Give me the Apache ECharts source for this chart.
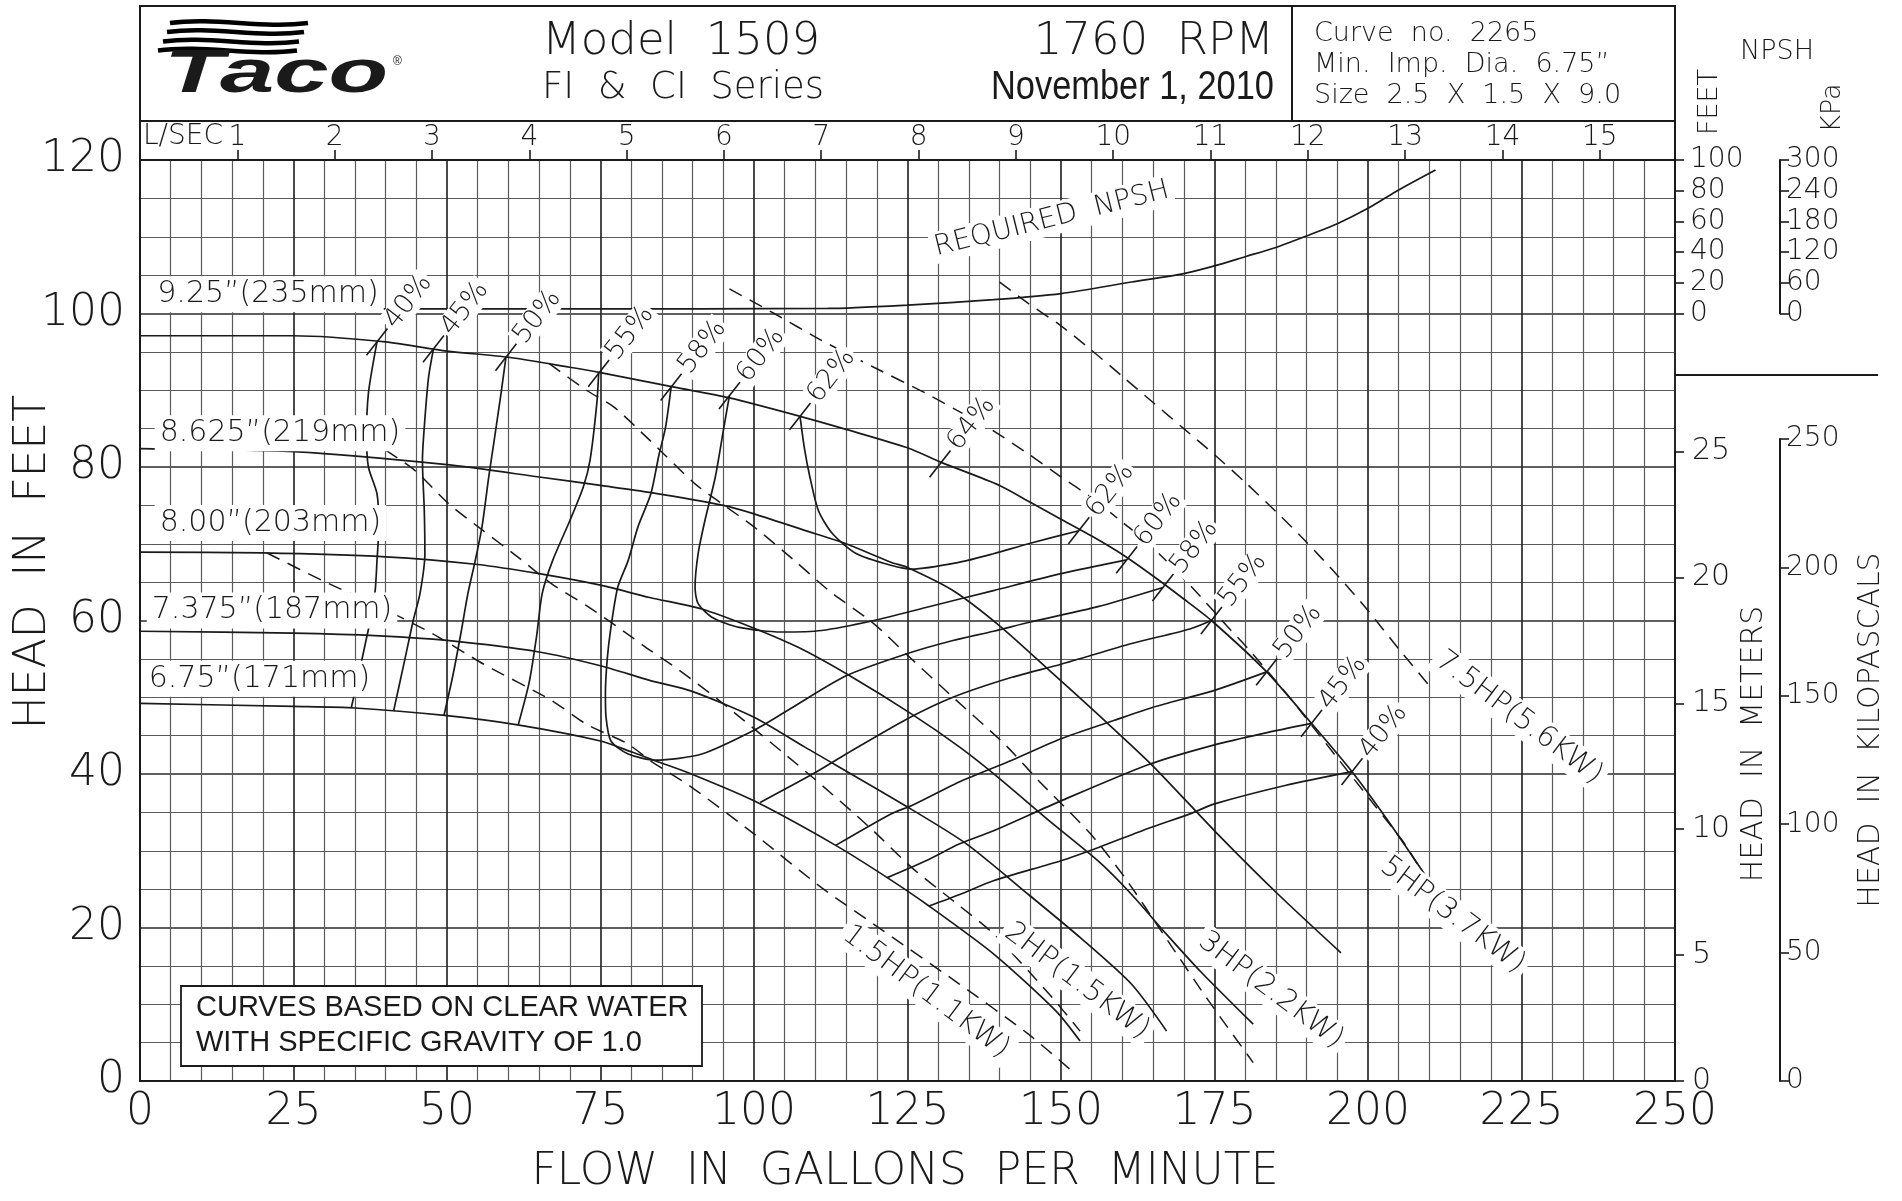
<!DOCTYPE html>
<html>
<head>
<meta charset="utf-8">
<title>Taco Model 1509 pump curve</title>
<script src="https://cdn.jsdelivr.net/npm/echarts@6/dist/echarts.min.js"></script>
<style>
html,body{margin:0;padding:0;background:#fff;}
#chart{width:1902px;height:1201px;}
</style>
</head>
<body>
<div id="chart"></div>
<script>
'use strict';
// all curves as [gpm, head ft]
var imp925 = [[0,97.1],[25,97.1],[40,96.3],[50,95.1],[60,94.3],[70,93],[75,92.3],[87,90.4],[96,89],[107.5,86.6],[115,84.9],[125,82.5],[130.5,80.6],[140,77.6],[145,75.4],[150,73.2],[155,71],[160,68.6],[165,65.8],[170,62.8],[174.5,60],[183.5,53.3],[190.8,46.6],[197.4,40.3],[203,34.2],[209.6,26.5]];
var imp8625 = [[0,82.4],[25,82],[50,80.3],[65,78.7],[75,77.6],[83,76.7],[95,75],[100,73.9],[110,71.3],[115,70],[122.3,67.6],[125,66.9],[132.4,63.9],[140,59.3],[148.1,53.5],[156.5,47.4],[164.9,41.1],[175,32.6],[185.4,24.3],[195.6,16.7]];
var imp800 = [[0,68.9],[20,68.8],[40,68.3],[55,67.3],[65,66.1],[75,64.6],[83,63],[91.5,61.5],[100,59],[107.2,56.5],[115.6,52.8],[125.7,47.8],[133.5,43.5],[139.7,39.6],[148.1,33.9],[156,28.7],[161.5,24.3],[167.2,19.1],[172.8,14.2],[181.3,7.4]];
var imp7375 = [[0,58.6],[25,58.35],[39,58],[50,57.4],[65,55.9],[75,54.1],[83,52.2],[89.8,50.8],[100,47.4],[108.3,43.5],[125,35.7],[134.6,30.9],[144.7,24.3],[153.1,18.7],[161.5,12.6],[167.2,6.5]];
var imp675 = [[0,49.2],[25,48.8],[35,48.6],[50,47.6],[61.5,46.4],[75,44.3],[80,42.9],[84,41.7],[89.8,40],[100,36.5],[113.3,30.7],[121.7,26.5],[128.5,22.8],[139.1,16.5],[149.2,9.1],[153.1,5.2]];

var eff40L = [[38.6,96.3],[37.2,89.6],[36.9,84],[37.2,80],[38.6,76.5],[38.9,72.2],[38.6,67.8],[38.3,63.9],[37.5,60],[36.7,57],[35.5,52.5],[34.4,48.6]];
var eff40R = [[128.5,22.8],[133.5,24.3],[139,26.1],[150,28.7],[156,30.4],[164.5,33],[171,34.8],[175,36.1],[186.5,38.5],[197.4,40.3]];
var eff45L = [[47.8,95.4],[47,91.7],[46.3,85.2],[46,80.9],[46.3,74.3],[46.4,68.7],[45.6,63.5],[44.5,60],[43.1,54.8],[41.3,48.2]];
var eff45R = [[121.7,26.5],[128,28.7],[133.5,30.9],[139,32.6],[150,36.5],[164.5,41.3],[175,43.8],[183,45.3],[190.8,46.6]];
var eff50L = [[59.6,94.3],[58.8,89.6],[57.6,83],[56.8,78.7],[55.7,72.2],[54.6,67.8],[53.4,63.5],[52.3,58.5],[51,53],[49.5,47.6]];
var eff50R = [[113.3,30.7],[122.3,34.8],[125.7,35.9],[133.5,39],[142,41.8],[150,44.6],[158.7,47],[165,48.7],[175,50.9],[183.5,53.3]];
var eff55L = [[74.7,92.2],[74.4,88.3],[73.3,80.9],[72.2,77.4],[70,73],[67.2,67.8],[65.5,63.5],[64.6,58],[63.4,52],[61.6,46.4]];
var eff55R = [[101,36.3],[110,40.2],[115,42.6],[125,47.2],[132.4,50],[142,52.6],[150,54.3],[161.5,57],[171,58.9],[174.5,60]];
var eff58 = [[86.5,90.4],[85.6,85.2],[84.5,81.5],[83.2,76.5],[81.1,72.2],[79.5,67.8],[77.8,64.3],[76.7,59.1],[76.1,55],[75.8,50.5],[75.9,47.4],[76.7,44.3],[79.5,42.6],[84,41.8],[91.5,42.6],[100,45.7],[105.5,48.3],[115,52.8],[125,55.7],[132.4,57.4],[139,58.6],[145,59.8],[156,61.8],[166.6,64.3]];
var eff60 = [[96,89.3],[95.1,85.2],[93.7,78.7],[92,73],[90.9,68.7],[90.4,64.3],[90.9,62.2],[93.2,60.4],[97.6,59.1],[104.4,58.5],[111,58.7],[119.5,60],[128,61.7],[139,63.9],[150,66.1],[160.7,67.9]];
var eff62 = [[107.5,86.6],[108.2,82.5],[109.1,78.7],[110.5,74.3],[112.8,71.3],[116.7,68.7],[122.3,67.2],[125.7,66.7],[133.5,67.6],[139,68.7],[144.7,70],[152.9,71.7]];

var hp15 = [[20.7,68.8],[29.7,65.2],[39.2,61.7],[47.6,58.3],[56,54.3],[67,49.6],[72.7,46.5],[79.5,43.9],[83,41.8],[89.8,38.3],[100,32.2],[111,25.2],[121,19.6],[133.5,12.6],[144.7,6.1],[151.5,1.5]];
var hp2 = [[40,82.2],[44.7,79.6],[50.3,75.2],[55.9,71.7],[61.5,68.3],[67,64.8],[72.6,62],[79.3,58.3],[83.1,56.1],[87.7,53.6],[94.3,49.6],[108.9,40],[118.9,33],[125.7,27.8],[132.4,23.5],[139.1,19.1],[148.1,11.3],[153.1,6.5]];
var hp3 = [[66.6,93.5],[72.7,90],[77.2,87.8],[83,83.5],[85.3,81.7],[90.4,77.8],[94.8,75.2],[100,72.2],[106.6,67.8],[112.2,63.9],[119.5,59.6],[125.1,55.4],[132.4,50],[140.8,43.9],[146.4,39.1],[154.8,32.2],[160.4,26.5],[167.2,18.5],[174,10.5],[181.3,2.4]];
var hp5 = [[96,103.2],[103.3,100],[111,96.5],[119.5,93],[128,89.6],[133,87.4],[138,85.2],[144.7,81.7],[150,78.7],[155,76],[160,72.8],[164.3,70],[171,64.6],[177.7,58.7],[180.5,56.3],[186.8,50.4],[194.8,42.3],[201.1,35.9],[205.8,31.1],[208,28.3]];
var hp75 = [[140,104.1],[144.7,101.3],[150,98.4],[155,95.2],[160,91.8],[165,88.4],[170,85],[175,81.6],[180,78],[185,74.2],[190,70.2],[195,65.9],[200,61.3],[205,56.3],[210,51.5]];

// required NPSH, [gpm, NPSH ft] on the NPSH scale
var npshReq = [[25,3],[70,3],[112,3.3],[125,5.5],[139,9],[150,13],[161.5,20.5],[170,26],[175,31],[180,37],[185,43],[190,50.5],[195,58.5],[200,68.5],[205,80.5],[211,93.5]];

var impLabels = [[2.0,102.5,'9.25\u201d(235mm)'],[2.4,84.4,'8.625\u201d(219mm)'],[2.4,72.7,'8.00\u201d(203mm)'],[1.1,61.3,'7.375\u201d(187mm)'],[0.6,52.4,'6.75\u201d(171mm)']];
var effLabels = [[38.6,96.3,'40%'],[47.8,95.4,'45%'],[59.6,94.3,'50%'],[74.7,92.2,'55%'],[86.5,90.4,'58%'],[96,89.3,'60%'],[107.5,86.6,'62%'],[130.3,80.4,'64%'],
  [152.9,71.7,'62%'],[160.7,67.9,'60%'],[166.6,64.3,'58%'],[174.5,60,'55%'],[183.5,53.3,'50%'],[190.8,46.6,'45%'],[197.4,40.3,'40%']];
var hpLabels = [[128,11.6,'1.5HP(1.1KW)'],[152.6,13,'2HP(1.5KW)'],[184.2,11.8,'3HP(2.2KW)'],[213.8,21.6,'5HP(3.7KW)'],[224.6,47.3,'7.5HP(5.6KW)']];
var npshLabel = [[148.5,112.3,'REQUIRED  NPSH']];

var lsecTicks = [1,2,3,4,5,6,7,8,9,10,11,12,13,14,15];

var INK = '#1a1a1a';
var CAD = '"DejaVu Sans"';
var GL = 140, GT = 160, GW = 1535, GH = 921;
var GB = GT + GH, GR = GL + GW;
var KPA_PER_FT = 2.98898;
var GPM_PER_LS = 15.850323;
var FT_PER_M = 3.28084;
var EFF_ANGLE = 52, HP_ANGLE = -37, NPSH_ANGLE = 14;

var pxPerFt = GH / 120;
var kpaTop = GB - 250 / KPA_PER_FT * pxPerFt;
var meterTop = GB - 25 * FT_PER_M * pxPerFt;
var npshBottom = GB - 100 * pxPerFt;

function curve(data, dashed, yIdx) {
  return {
    type: 'line', data: data, xAxisIndex: 0, yAxisIndex: yIdx || 0,
    showSymbol: false, symbol: 'none', smooth: 0.25, silent: true, animation: false,
    lineStyle: {color: INK, width: dashed ? 1.5 : 1.7, type: dashed ? [14, 9] : 'solid'},
    z: 3
  };
}

function cadFont(size) {
  return '200 ' + size + 'px ' + CAD;
}

function labelSeries(list, render) {
  return {
    type: 'custom', xAxisIndex: 0, yAxisIndex: 0, silent: true, animation: false, z: 6,
    data: list.map(function (d) { return [d[0], d[1]]; }),
    renderItem: render
  };
}

function renderImp(params, api) {
  var d = impLabels[params.dataIndex];
  var p = api.coord([d[0], d[1]]);
  return {type: 'text', x: p[0], y: p[1], style: {text: d[2], fill: INK, font: cadFont(30), align: 'left', verticalAlign: 'middle', backgroundColor: '#fff', padding: [3, 5]}};
}

function renderEff(params, api) {
  var d = effLabels[params.dataIndex];
  var p = api.coord([d[0], d[1]]);
  var a = EFF_ANGLE * Math.PI / 180;
  var ux = Math.cos(a), uy = -Math.sin(a);
  return {
    type: 'group',
    children: [{
      type: 'line',
      shape: {x1: p[0] - ux * 17, y1: p[1] - uy * 17, x2: p[0] + ux * 17, y2: p[1] + uy * 17},
      style: {stroke: INK, lineWidth: 1.6}
    }, {
      type: 'text', x: p[0] + ux * 19, y: p[1] + uy * 19, rotation: a,
      style: {text: d[2], fill: INK, font: cadFont(27), align: 'left', verticalAlign: 'middle', backgroundColor: '#fff', padding: [0, 2]}
    }]
  };
}

function renderRotated(list, angle, size) {
  return function (params, api) {
    var d = list[params.dataIndex];
    var p = api.coord([d[0], d[1]]);
    return {type: 'text', x: p[0], y: p[1], rotation: angle * Math.PI / 180,
      style: {text: d[2], fill: INK, font: cadFont(size), align: 'center', verticalAlign: 'middle', backgroundColor: '#fff', padding: [2, 4]}};
  };
}

function txt(s, x, y, size, opts) {
  var o = opts || {};
  return {
    type: 'text', x: x, y: y, rotation: o.rot || 0, scaleX: o.sx || 1, z: 20,
    style: {text: s, fill: INK, font: o.font || cadFont(size), align: o.align || 'left', verticalAlign: 'middle'}
  };
}

function seg(x1, y1, x2, y2, w) {
  return {type: 'line', z: 20, shape: {x1: x1, y1: y1, x2: x2, y2: y2}, style: {stroke: INK, lineWidth: w || 2}};
}

function wave(x1, x2, y) {
  var len = x2 - x1;
  return {type: 'bezierCurve', z: 20, shape: {x1: x1, y1: y, x2: x2, y2: y, cpx1: x1 + len / 3, cpy1: y - 6, cpx2: x1 + 2 * len / 3, cpy2: y + 6},
    style: {stroke: '#000', lineWidth: 4.6, fill: null}};
}

var axisText = {color: INK, fontFamily: CAD, fontWeight: 200};

// short scales drawn on their own narrow grids, ticks and labels pointing right
function sideAxis(gridIndex, max, interval, size, margin) {
  return {gridIndex: gridIndex, type: 'value', min: 0, max: max, interval: interval, position: 'left',
    axisLine: {show: true, onZero: false, lineStyle: {color: INK, width: 2}},
    axisTick: {show: true, inside: true, length: 9, lineStyle: {color: INK, width: 1.6}},
    axisLabel: Object.assign({fontSize: size, inside: true, margin: margin}, axisText),
    splitLine: {show: false}};
}

function hiddenX(gridIndex) {
  return {gridIndex: gridIndex, type: 'value', min: 0, max: 1, show: false, axisLine: {onZero: false}};
}

var option = {
  backgroundColor: '#fff',
  animation: false,
  grid: [
    {left: GL, top: GT, width: GW, height: GH, show: true, borderColor: INK, borderWidth: 2},
    {left: GR + 105, top: kpaTop, width: 1, height: GB - kpaTop},
    {left: GR + 105, top: GT, width: 1, height: npshBottom - GT},
    {left: GR, top: meterTop, width: 1, height: GB - meterTop},
    {left: GR, top: GT, width: 1, height: npshBottom - GT}
  ],
  xAxis: [
    {gridIndex: 0, type: 'value', min: 0, max: 250, interval: 25, position: 'bottom',
      axisLine: {onZero: false, lineStyle: {color: INK, width: 2}}, axisTick: {show: false},
      axisLabel: Object.assign({fontSize: 44, margin: 10}, axisText),
      splitLine: {show: true, lineStyle: {color: '#2a2a2a', width: 1.7}},
      minorTick: {show: false, splitNumber: 5},
      minorSplitLine: {show: true, lineStyle: {color: '#5a5a5a', width: 1.2}}},
    {gridIndex: 0, type: 'value', min: 0, max: 250 / GPM_PER_LS, position: 'top',
      axisLine: {show: false, onZero: false},
      axisTick: {show: true, length: 10, customValues: lsecTicks, lineStyle: {color: INK, width: 1.6}},
      axisLabel: Object.assign({fontSize: 28, margin: 8, customValues: lsecTicks}, axisText),
      splitLine: {show: false}},
    hiddenX(1), hiddenX(2), hiddenX(3), hiddenX(4)
  ],
  yAxis: [
    {gridIndex: 0, type: 'value', min: 0, max: 120, interval: 20, position: 'left',
      axisLine: {onZero: false, lineStyle: {color: INK, width: 2}}, axisTick: {show: false},
      axisLabel: Object.assign({fontSize: 44, margin: 15}, axisText),
      splitLine: {show: true, lineStyle: {color: '#2a2a2a', width: 1.7}},
      minorTick: {show: false, splitNumber: 4},
      minorSplitLine: {show: true, lineStyle: {color: '#5a5a5a', width: 1.2}}},
    // NPSH feet share the head scale: 0 at 100 ft head, 100 at 120 ft head
    {gridIndex: 0, type: 'value', min: -500, max: 100, position: 'right', show: false, axisLine: {onZero: false}},
    sideAxis(1, 250, 50, 28, 6),
    sideAxis(2, 300, 60, 28, 6),
    sideAxis(3, 25, 5, 30, 17),
    sideAxis(4, 100, 20, 28, 15)
  ],
  graphic: [
    {type: 'rect', z: 20, shape: {x: GL, y: 6, width: GW, height: GT - 6}, style: {fill: null, stroke: INK, lineWidth: 2}},
    seg(GL, 121, GR, 121),
    seg(1292, 6, 1292, 121),
    seg(GR, 375, 1878, 375),
    wave(170, 308, 23), wave(167, 304, 32), wave(163, 299, 41.5), wave(158, 297, 50.5),
    txt('Taco', 164, 75, 61, {font: 'italic 900 61px "Liberation Sans"', sx: 1.6}),
    txt('\u00ae', 393, 62, 12, {font: '12px "Liberation Sans"'}),
    txt('Model  1509', 542, 42, 45),
    txt('FI  &  CI  Series', 542, 88, 37),
    txt('1760  RPM', 1274, 42, 45, {align: 'right'}),
    txt('November 1, 2010', 1274, 88, 40, {align: 'right', font: '40px "Liberation Sans"', sx: 0.86}),
    txt('Curve  no.  2265', 1314, 34, 27),
    txt('Min.  Imp.  Dia.  6.75\u201d', 1314, 65, 27),
    txt('Size  2.5  X  1.5  X  9.0', 1314, 96, 27),
    txt('NPSH', 1777, 52, 27, {align: 'center'}),
    txt('FEET', 1710, 102, 27, {align: 'center', rot: Math.PI / 2}),
    txt('KPa', 1833, 108, 27, {align: 'center', rot: Math.PI / 2}),
    txt('L/SEC', 143, 137, 28),
    txt('HEAD  IN  FEET', 34, 562, 44, {align: 'center', rot: Math.PI / 2}),
    txt('FLOW  IN  GALLONS  PER  MINUTE', 905, 1173, 44, {align: 'center'}),
    txt('HEAD  IN  METERS', 1754, 744, 30, {align: 'center', rot: Math.PI / 2}),
    txt('HEAD  IN  KILOPASCALS', 1871, 730, 30, {align: 'center', rot: Math.PI / 2}),
    {type: 'rect', z: 20, shape: {x: 181, y: 986, width: 521, height: 80}, style: {fill: '#fff', stroke: INK, lineWidth: 1.8}},
    txt('CURVES BASED ON CLEAR WATER', 196, 1008, 29, {font: '29px "Liberation Sans"'}),
    txt('WITH SPECIFIC GRAVITY OF 1.0', 196, 1043, 29, {font: '29px "Liberation Sans"'})
  ],
  series: [
    curve(imp925), curve(imp8625), curve(imp800), curve(imp7375), curve(imp675),
    curve(eff40L), curve(eff40R), curve(eff45L), curve(eff45R), curve(eff50L), curve(eff50R),
    curve(eff55L), curve(eff55R), curve(eff58), curve(eff60), curve(eff62),
    curve(hp15, true), curve(hp2, true), curve(hp3, true), curve(hp5, true), curve(hp75, true),
    curve(npshReq, false, 1),
    labelSeries(impLabels, renderImp),
    labelSeries(effLabels, renderEff),
    labelSeries(hpLabels, renderRotated(hpLabels, HP_ANGLE, 29)),
    labelSeries(npshLabel, renderRotated(npshLabel, NPSH_ANGLE, 28))
  ]
};

var chart = echarts.init(document.getElementById('chart'));
chart.setOption(option);
</script>
</body>
</html>
